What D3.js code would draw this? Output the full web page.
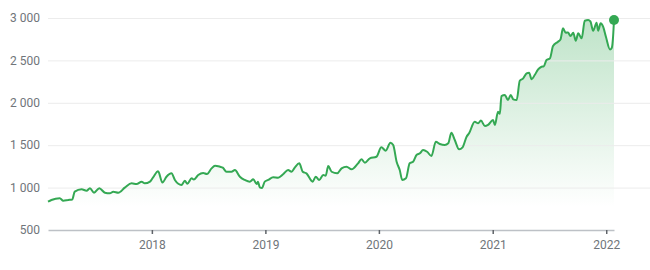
<!DOCTYPE html>
<html>
<head>
<meta charset="utf-8">
<script src="https://cdn.jsdelivr.net/npm/d3@7"></script>
<style>
  html, body { margin: 0; padding: 0; background: #fff; }
  svg { display: block; font-family: Roboto, Arial, sans-serif; }
</style>
</head>
<body>
<div id="chart"></div>
<script>
// price points
var dates = [
  "2017-02-01","2017-02-12","2017-03-11","2017-03-22","2017-04-07","2017-04-20","2017-04-28","2017-05-20",
  "2017-06-05","2017-06-16","2017-06-29","2017-07-16","2017-08-03","2017-08-19","2017-08-30","2017-09-15",
  "2017-10-06","2017-10-28","2017-11-13","2017-11-29","2017-12-09","2017-12-26","2018-01-05","2018-01-21",
  "2018-02-04","2018-02-17","2018-03-05","2018-03-16","2018-03-27","2018-04-06","2018-04-17","2018-04-25",
  "2018-05-09","2018-05-16","2018-05-30","2018-06-15","2018-06-27","2018-07-12","2018-07-23","2018-08-08",
  "2018-08-17","2018-08-29","2018-09-14","2018-09-25","2018-10-11","2018-10-27","2018-11-12","2018-11-23",
  "2018-12-04","2018-12-08","2018-12-14","2018-12-21","2018-12-30","2019-01-10","2019-01-26","2019-02-11",
  "2019-02-27","2019-03-15","2019-03-26","2019-04-06","2019-04-20","2019-05-01","2019-05-13","2019-06-02",
  "2019-06-12","2019-06-23","2019-07-06","2019-07-14","2019-07-22","2019-08-02","2019-08-20","2019-09-03",
  "2019-09-19","2019-10-05","2019-10-26","2019-11-06","2019-11-17","2019-12-03","2019-12-24","2020-01-09",
  "2020-01-23","2020-02-07","2020-02-16","2020-02-27","2020-03-08","2020-03-16","2020-03-28","2020-04-09",
  "2020-04-20","2020-05-01","2020-05-12","2020-05-22","2020-06-04","2020-06-18","2020-07-02","2020-07-15",
  "2020-07-31","2020-08-11","2020-08-21","2020-09-01","2020-09-15","2020-09-26","2020-10-09","2020-10-17",
  "2020-11-04","2020-11-15","2020-11-24","2020-12-07","2020-12-17","2021-01-02","2021-01-08","2021-01-18",
  "2021-01-24","2021-01-29","2021-02-09","2021-02-19","2021-02-28","2021-03-08","2021-03-19","2021-03-29",
  "2021-04-09","2021-04-20","2021-04-28","2021-05-06","2021-05-16","2021-05-27","2021-06-07","2021-06-14",
  "2021-06-23","2021-07-04","2021-07-14","2021-07-30","2021-08-07","2021-08-15","2021-08-24","2021-08-31",
  "2021-09-08","2021-09-17","2021-09-25","2021-10-03","2021-10-14","2021-10-24","2021-11-04","2021-11-11",
  "2021-11-20","2021-12-01","2021-12-06","2021-12-14","2021-12-22","2021-12-31","2022-01-13","2022-01-19",
  "2022-01-23","2022-01-26"
];
var prices = [
  834, 854, 874, 845, 854, 860, 952, 980,
  963, 992, 940, 992, 940, 933, 952, 940,
  999, 1050, 1042, 1070, 1050, 1070, 1120, 1192,
  1060, 1128, 1168, 1090, 1045, 1030, 1080, 1045,
  1109, 1095, 1148, 1172, 1160, 1227, 1258, 1246,
  1235, 1187, 1187, 1207, 1128, 1090, 1070, 1098,
  1042, 1070, 1003, 995, 1070, 1090, 1121, 1117,
  1157, 1207, 1187, 1239, 1286, 1187, 1168, 1070,
  1128, 1090, 1148, 1140, 1254, 1187, 1168, 1227,
  1246, 1215, 1286, 1333, 1293, 1345, 1364, 1475,
  1435, 1529, 1502, 1305, 1207, 1090, 1109, 1286,
  1305, 1384, 1404, 1443, 1423, 1372, 1541, 1514,
  1502, 1522, 1647, 1561, 1451, 1475, 1600, 1640,
  1777, 1758, 1790, 1726, 1740, 1797, 1738, 1895,
  1870, 2080, 2092, 2033, 2092, 2041, 2033, 2260,
  2288, 2347, 2355, 2277, 2327, 2394, 2425, 2430,
  2504, 2524, 2669, 2720, 2748, 2878, 2826, 2830,
  2787, 2826, 2732, 2819, 2760, 2968, 2976, 2960,
  2850, 2944, 2850, 2937, 2897, 2779, 2630, 2650,
  2779, 2976
];
var yTicks = [500, 1000, 1500, 2000, 2500, 3000];
var xTicks = ["2018-01-01", "2019-01-01", "2020-01-01", "2021-01-01", "2022-01-01"];

(function () {
  var W = 650, H = 270;
  var m = { l: 48, r: 614, t: 18, b: 230 };
  var green = "#34a853";

  var parse = d3.timeParse("%Y-%m-%d");
  var data = dates.map(function (d, i) { return { date: parse(d), value: prices[i] }; });

  var svg = d3.select("#chart").append("svg")
    .attr("width", W)
    .attr("height", H);

  var x = d3.scaleTime()
    .domain([data[0].date, data[data.length - 1].date])
    .range([m.l, m.r]);

  var y = d3.scaleLinear()
    .domain([500, 3000])
    .range([m.b, m.t]);

  // gradient fill under the line
  var grad = svg.append("defs").append("linearGradient")
    .attr("id", "fillGrad")
    .attr("gradientUnits", "userSpaceOnUse")
    .attr("x1", 0).attr("x2", 0)
    .attr("y1", y(3000)).attr("y2", 207);
  grad.append("stop").attr("offset", "0%").attr("stop-color", green).attr("stop-opacity", 0.32);
  grad.append("stop").attr("offset", "100%").attr("stop-color", green).attr("stop-opacity", 0);

  var area = d3.area()
    .x(function (d) { return x(d.date); })
    .y0(m.b)
    .y1(function (d) { return y(d.value); })
    .curve(d3.curveMonotoneX);

  svg.append("path")
    .datum(data)
    .attr("d", area)
    .attr("fill", "url(#fillGrad)");

  // gridlines
  svg.append("g")
    .selectAll("line")
    .data(yTicks.slice(1))
    .enter()
      .append("line")
      .attr("x1", m.l)
      .attr("x2", W)
      .attr("y1", function (d) { return y(d) + 0.5; })
      .attr("y2", function (d) { return y(d) + 0.5; })
      .attr("stroke", "#ececec")
      .attr("stroke-width", 1);

  // y labels
  var fmt = function (v) { return d3.format(",")(v).replace(/,/g, " "); };
  svg.append("g")
    .selectAll("text")
    .data(yTicks)
    .enter()
      .append("text")
      .attr("x", 40)
      .attr("y", function (d) { return y(d); })
      .attr("dy", "0.35em")
      .attr("text-anchor", "end")
      .attr("font-size", 12)
      .attr("fill", "#70757a")
      .text(fmt);

  // x axis
  var xAxis = d3.axisBottom(x)
    .tickValues(xTicks.map(parse))
    .tickFormat(d3.timeFormat("%Y"))
    .tickSize(4)
    .tickSizeOuter(0)
    .tickPadding(6);

  var gx = svg.append("g")
    .attr("transform", "translate(0," + m.b + ")")
    .call(xAxis);
  gx.select(".domain").attr("stroke", "#bdc1c6").attr("stroke-width", 1.5);
  gx.selectAll(".tick line").attr("stroke", "#5f6368").attr("stroke-width", 1.5);
  gx.selectAll(".tick text")
    .attr("font-size", 12)
    .attr("font-family", "Roboto, Arial, sans-serif")
    .attr("fill", "#70757a");

  // price line
  var line = d3.line()
    .x(function (d) { return x(d.date); })
    .y(function (d) { return y(d.value); })
    .curve(d3.curveMonotoneX);

  svg.append("path")
    .datum(data)
    .attr("d", line)
    .attr("fill", "none")
    .attr("stroke", green)
    .attr("stroke-width", 2)
    .attr("stroke-linejoin", "round");

  // last point marker
  var last = data[data.length - 1];
  svg.append("circle")
    .attr("cx", x(last.date))
    .attr("cy", y(last.value))
    .attr("r", 5)
    .attr("fill", green);
})();
</script>
</body>
</html>
